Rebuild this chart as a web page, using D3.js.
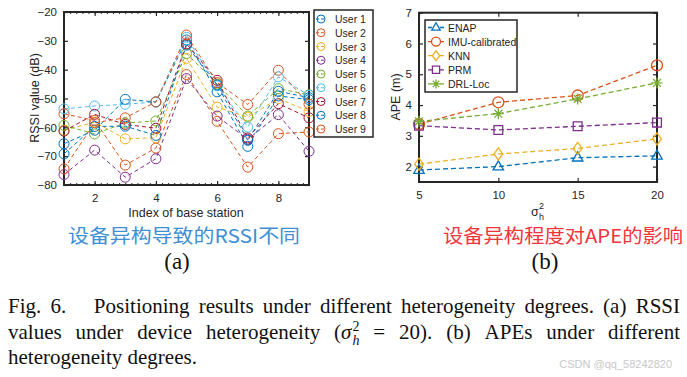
<!DOCTYPE html>
<html><head><meta charset="utf-8">
<script src="https://cdn.jsdelivr.net/npm/d3@7"></script>
<style>
html,body{margin:0;padding:0;background:#fff;}
svg{display:block;}
</style></head>
<body>
<svg id="c" width="687" height="377"></svg>
<script>
// ---------- DATA (a) ----------
const bsIndex = [1,2,3,4,5,6,7,8,9];
const userNames = ["User 1","User 2","User 3","User 4","User 5","User 6","User 7","User 8","User 9"];
const user1 = [-65.7,-61.0,-50.3,-51.2,-29.7,-47.7,-66.6,-49.1,-50.4];
const user2 = [-55.3,-57.6,-73.1,-67.2,-41.7,-57.9,-73.8,-62.2,-61.6];
const user3 = [-61.0,-58.2,-64.0,-63.6,-36.1,-53.0,-56.5,-50.0,-54.5];
const user4 = [-76.4,-67.9,-77.3,-70.9,-43.1,-56.1,-64.2,-55.6,-68.3];
const user5 = [-59.3,-62.3,-58.5,-57.8,-34.4,-45.0,-56.1,-46.6,-48.7];
const user6 = [-53.6,-52.6,-52.0,-51.2,-28.8,-45.6,-59.9,-42.5,-48.9];
const user7 = [-61.3,-55.5,-59.0,-60.3,-31.1,-43.7,-63.7,-51.8,-56.7];
const user8 = [-69.2,-59.7,-59.6,-62.8,-31.5,-45.3,-64.5,-47.5,-49.7];
const user9 = [-74.4,-58.4,-56.7,-51.2,-28.0,-44.5,-52.1,-40.2,-52.0];
const userSeries = [user1,user2,user3,user4,user5,user6,user7,user8,user9];
const rssiTicks = [-80,-70,-60,-50,-40,-30,-20];
const bsTicks = [2,4,6,8];

// ---------- DATA (b) ----------
const sigma2 = [5,10,15,20];
const methodNames = ["ENAP","IMU-calibrated","KNN","PRM","DRL-Loc"];
const enap = [1.89,2.00,2.29,2.35];
const imu  = [3.38,4.09,4.31,5.29];
const knn  = [2.08,2.41,2.59,2.90];
const prm  = [3.33,3.19,3.31,3.43];
const drl  = [3.47,3.72,4.20,4.72];
const methodSeries = [enap,imu,knn,prm,drl];
const apeTicks = [2,3,4,5,6,7];
const sigmaTicks = [5,10,15,20];

// ---------- STYLE ----------
const userColors = ["#0072BD","#D95319","#EDB120","#7E2F8E","#77AC30","#4DBEEE","#A2142F","#0072BD","#D95319"];
const methodColors = ["#0072BD","#D95319","#EDB120","#7E2F8E","#77AC30"];
const methodShapes = ["triangle","circle","diamond","square","asterisk"];
const axisCol = "#262626";
const tickFont = "'Liberation Sans', Arial, sans-serif";

const svg = d3.select("#c");

function markerPath(shape, r){
  switch(shape){
    case "triangle": return `M0,${-r*1.05}L${r*0.95},${r*0.6}L${-r*0.95},${r*0.6}Z`;
    case "circle": return `M${r},0A${r},${r} 0 1 1 ${-r},0A${r},${r} 0 1 1 ${r},0Z`;
    case "diamond": return `M0,${-r*1.1}L${r*0.8},0L0,${r*1.1}L${-r*0.8},0Z`;
    case "square": { const s=r*0.8; return `M${-s},${-s}H${s}V${s}H${-s}Z`; }
    case "asterisk": { const a=r, d=r*0.72; return `M${-a},0H${a}M0,${-a}V${a}M${-d},${-d}L${d},${d}M${-d},${d}L${d},${-d}`; }
  }
}

function boxAxes(g, x, y, xt, yt, opts){
  const [x0,x1]=x.range(), [y1,y0]=y.range();
  const ax = g.append("g").attr("transform",`translate(${x0},0)`)
    .call(d3.axisLeft(y).tickValues(yt).tickSizeInner(-4).tickSizeOuter(0).tickPadding(7).tickFormat(d3.format("d")));
  const bx = g.append("g").attr("transform",`translate(0,${y1})`)
    .call(d3.axisBottom(x).tickValues(xt).tickSizeInner(-4).tickSizeOuter(0).tickPadding(9).tickFormat(d3.format("d")));
  const rx = g.append("g").attr("transform",`translate(${x1},0)`)
    .call(d3.axisRight(y).tickValues(yt).tickSizeInner(-4).tickSizeOuter(0).tickFormat(""));
  const tx = g.append("g").attr("transform",`translate(0,${y0})`)
    .call(d3.axisTop(x).tickValues(xt).tickSizeInner(-4).tickSizeOuter(0).tickFormat(""));
  [ax,bx,rx,tx].forEach(a=>{
    a.select(".domain").remove();
    a.selectAll("line").attr("stroke",axisCol).attr("stroke-width",1.2);
    a.selectAll("text").attr("fill",axisCol).style("font-family",tickFont).style("font-size","11.5px");
  });
  if(opts.minorX){
    const mt=[]; const [d0,d1]=x.domain();
    for(let v=d0; v<=d1+1e-9; v+=opts.minorX) mt.push(+v.toFixed(4));
    const mb = g.append("g").attr("transform",`translate(0,${y1})`)
      .call(d3.axisBottom(x).tickValues(mt).tickSizeInner(-2).tickSizeOuter(0).tickFormat(""));
    const mtop = g.append("g").attr("transform",`translate(0,${y0})`)
      .call(d3.axisTop(x).tickValues(mt).tickSizeInner(-2).tickSizeOuter(0).tickFormat(""));
    [mb,mtop].forEach(a=>{a.select(".domain").remove(); a.selectAll("line").attr("stroke",axisCol).attr("stroke-width",1);});
  }
  g.append("rect").attr("x",x0).attr("y",y0).attr("width",x1-x0).attr("height",y1-y0)
    .attr("fill","none").attr("stroke",axisCol).attr("stroke-width",2);
}

// ================= Chart (a) =================
const xA = d3.scaleLinear().domain([1,9]).range([64,309]);
const yA = d3.scaleLinear().domain([-80,-20]).range([185,12]);
const gA = svg.append("g");
boxAxes(gA, xA, yA, bsTicks, rssiTicks, {minorX:0.2});

const lineA = d3.line().x((d,i)=>xA(bsIndex[i])).y(d=>yA(d));
userSeries.forEach((s,k)=>{
  gA.append("path").attr("d",lineA(s)).attr("fill","none").attr("stroke",userColors[k])
    .attr("stroke-width",1).attr("stroke-dasharray","4,3");
});
userSeries.forEach((s,k)=>{
  gA.selectAll(null).data(s).enter().append("path")
    .attr("transform",(d,i)=>`translate(${xA(bsIndex[i])},${yA(d)})`)
    .attr("d",markerPath("circle",5)).attr("fill","none").attr("stroke",userColors[k]).attr("stroke-width",1);
});
gA.append("text").attr("transform","translate(39,98) rotate(-90)").attr("text-anchor","middle")
  .style("font-family",tickFont).style("font-size","12.5px").attr("fill",axisCol).text("RSSI value (dB)");
gA.append("text").attr("x",186).attr("y",217).attr("text-anchor","middle")
  .style("font-family",tickFont).style("font-size","12.5px").attr("fill",axisCol).text("Index of base station");

// legend (a)
const legA = svg.append("g");
legA.append("rect").attr("x",314).attr("y",10).attr("width",59).attr("height",127)
  .attr("fill","#fff").attr("stroke",axisCol).attr("stroke-width",1.5);
userNames.forEach((n,k)=>{
  const yy = 19 + k*13.75;
  legA.append("line").attr("x1",316).attr("x2",326).attr("y1",yy).attr("y2",yy)
    .attr("stroke",userColors[k]).attr("stroke-width",1).attr("stroke-dasharray","3,2");
  legA.append("path").attr("transform",`translate(321,${yy})`).attr("d",markerPath("circle",4))
    .attr("fill","none").attr("stroke",userColors[k]).attr("stroke-width",1);
  legA.append("text").attr("x",335).attr("y",yy+4).style("font-family",tickFont).style("font-size","10.5px")
    .attr("fill",axisCol).text(n);
});

// ================= Chart (b) =================
const xB = d3.scaleLinear().domain([5,20]).range([419,657]);
const yB = d3.scaleLinear().domain([1.5,7]).range([182,12.7]);
const gB = svg.append("g");
boxAxes(gB, xB, yB, sigmaTicks, apeTicks, {});
const lineB = d3.line().x((d,i)=>xB(sigma2[i])).y(d=>yB(d));
methodSeries.forEach((s,k)=>{
  gB.append("path").attr("d",lineB(s)).attr("fill","none").attr("stroke",methodColors[k])
    .attr("stroke-width",1.3).attr("stroke-dasharray","5,3");
  gB.selectAll(null).data(s).enter().append("path")
    .attr("transform",(d,i)=>`translate(${xB(sigma2[i])},${yB(d)})`)
    .attr("d",markerPath(methodShapes[k],5.5)).attr("fill","none").attr("stroke",methodColors[k]).attr("stroke-width",1.3);
});
gB.append("text").attr("transform","translate(400,97) rotate(-90)").attr("text-anchor","middle")
  .style("font-family",tickFont).style("font-size","12.5px").attr("fill",axisCol).text("APE (m)");
const xl = gB.append("g").attr("transform","translate(531,216)");
xl.append("text").attr("x",0).attr("y",0).style("font-family",tickFont).style("font-size","12.5px").attr("fill",axisCol).text("σ");
xl.append("text").attr("x",8).attr("y",-7).style("font-family",tickFont).style("font-size","9px").attr("fill",axisCol).text("2");
xl.append("text").attr("x",8).attr("y",4).style("font-family",tickFont).style("font-size","9px").attr("fill",axisCol).text("h");

// legend (b)
const legB = svg.append("g");
legB.append("rect").attr("x",425).attr("y",20).attr("width",92).attr("height",72)
  .attr("fill","#fff").attr("stroke",axisCol).attr("stroke-width",1.5);
methodNames.forEach((n,k)=>{
  const yy = 27.5 + k*14.1;
  legB.append("line").attr("x1",428).attr("x2",444).attr("y1",yy).attr("y2",yy)
    .attr("stroke",methodColors[k]).attr("stroke-width",1.3).attr("stroke-dasharray","4,2");
  legB.append("path").attr("transform",`translate(436,${yy})`).attr("d",markerPath(methodShapes[k],4.5))
    .attr("fill","#fff").attr("stroke",methodColors[k]).attr("stroke-width",1.3);
  legB.append("text").attr("x",448).attr("y",yy+4).style("font-family",tickFont).style("font-size","10.5px")
    .attr("fill",axisCol).text(n);
});

// ================= Captions =================
const cjk = "'Noto Sans CJK SC','Noto Sans',sans-serif";
const serif = "'Liberation Serif','Times New Roman',serif";
svg.append("text").attr("x",68).attr("y",243).attr("textLength",232).attr("lengthAdjust","spacingAndGlyphs")
  .style("font-family",cjk).style("font-size","19px").attr("fill","#3d8fd6").text("设备异构导致的RSSI不同");
svg.append("text").attr("x",443).attr("y",243).attr("textLength",240).attr("lengthAdjust","spacingAndGlyphs")
  .style("font-family",cjk).style("font-size","19px").attr("fill","#f2353a").text("设备异构程度对APE的影响");
svg.append("text").attr("x",177).attr("y",269).attr("text-anchor","middle").style("font-family",serif)
  .style("font-size","23px").attr("fill","#111").text("(a)");
svg.append("text").attr("x",545).attr("y",269).attr("text-anchor","middle").style("font-family",serif)
  .style("font-size","23px").attr("fill","#111").text("(b)");

const capSize = 21;
function word(g, txt){
  const t = g.append("text").style("font-family",serif).style("font-size",capSize+"px").attr("fill","#111").text(txt);
  return {w:t.node().getComputedTextLength(), place:(x,y)=>t.attr("x",x).attr("y",y)};
}
function mathWord(g){
  const sub = g.append("g");
  const a = sub.append("text").style("font-family",serif).style("font-size",capSize+"px").attr("fill","#111");
  a.append("tspan").text("(");
  a.append("tspan").style("font-style","italic").text("σ");
  const wa = a.node().getComputedTextLength();
  const s2 = sub.append("text").attr("x",wa+1).attr("y",-8).style("font-family",serif).style("font-size","14px").attr("fill","#111").text("2");
  const sh = sub.append("text").attr("x",wa+1).attr("y",6).style("font-family",serif).style("font-style","italic").style("font-size","14px").attr("fill","#111").text("h");
  const w = wa + 1 + Math.max(s2.node().getComputedTextLength(), sh.node().getComputedTextLength());
  return {w, place:(x,y)=>sub.attr("transform",`translate(${x},${y})`)};
}
function justifyLine(tokens, weights, x0, x1, y){
  const total = tokens.reduce((s,t)=>s+t.w,0);
  const wsum = weights.reduce((s,v)=>s+v,0);
  const gap = (x1-x0-total)/wsum;
  let x = x0;
  tokens.forEach((t,i)=>{ t.place(x,y); x += t.w + (i<weights.length? weights[i]*gap : 0); });
}
const cap = svg.append("g");
const l1words = ["Fig.","6.","Positioning","results","under","different","heterogeneity","degrees.","(a)","RSSI"];
const l1 = l1words.map(w=>word(cap,w));
const w1 = l1words.slice(0,-1).map((w,i)=> i===1 ? 3 : 1);
justifyLine(l1, w1, 8, 680, 313);

const l2 = [word(cap,"values"),word(cap,"under"),word(cap,"device"),word(cap,"heterogeneity"),
  mathWord(cap),word(cap,"="),word(cap,"20)."),word(cap,"(b)"),word(cap,"APEs"),word(cap,"under"),word(cap,"different")];
const w2 = [1,1,1,1,1,1,1,1,1,1];
justifyLine(l2, w2, 8, 680, 339);

cap.append("text").attr("x",8).attr("y",364).style("font-family",serif).style("font-size",capSize+"px")
  .attr("fill","#111").text("heterogeneity degrees.");

svg.append("text").attr("x",672).attr("y",368).attr("text-anchor","end").style("font-family",tickFont)
  .style("font-size","11px").attr("fill","#c8c8c8").text("CSDN @qq_58242820");
</script>
</body></html>
